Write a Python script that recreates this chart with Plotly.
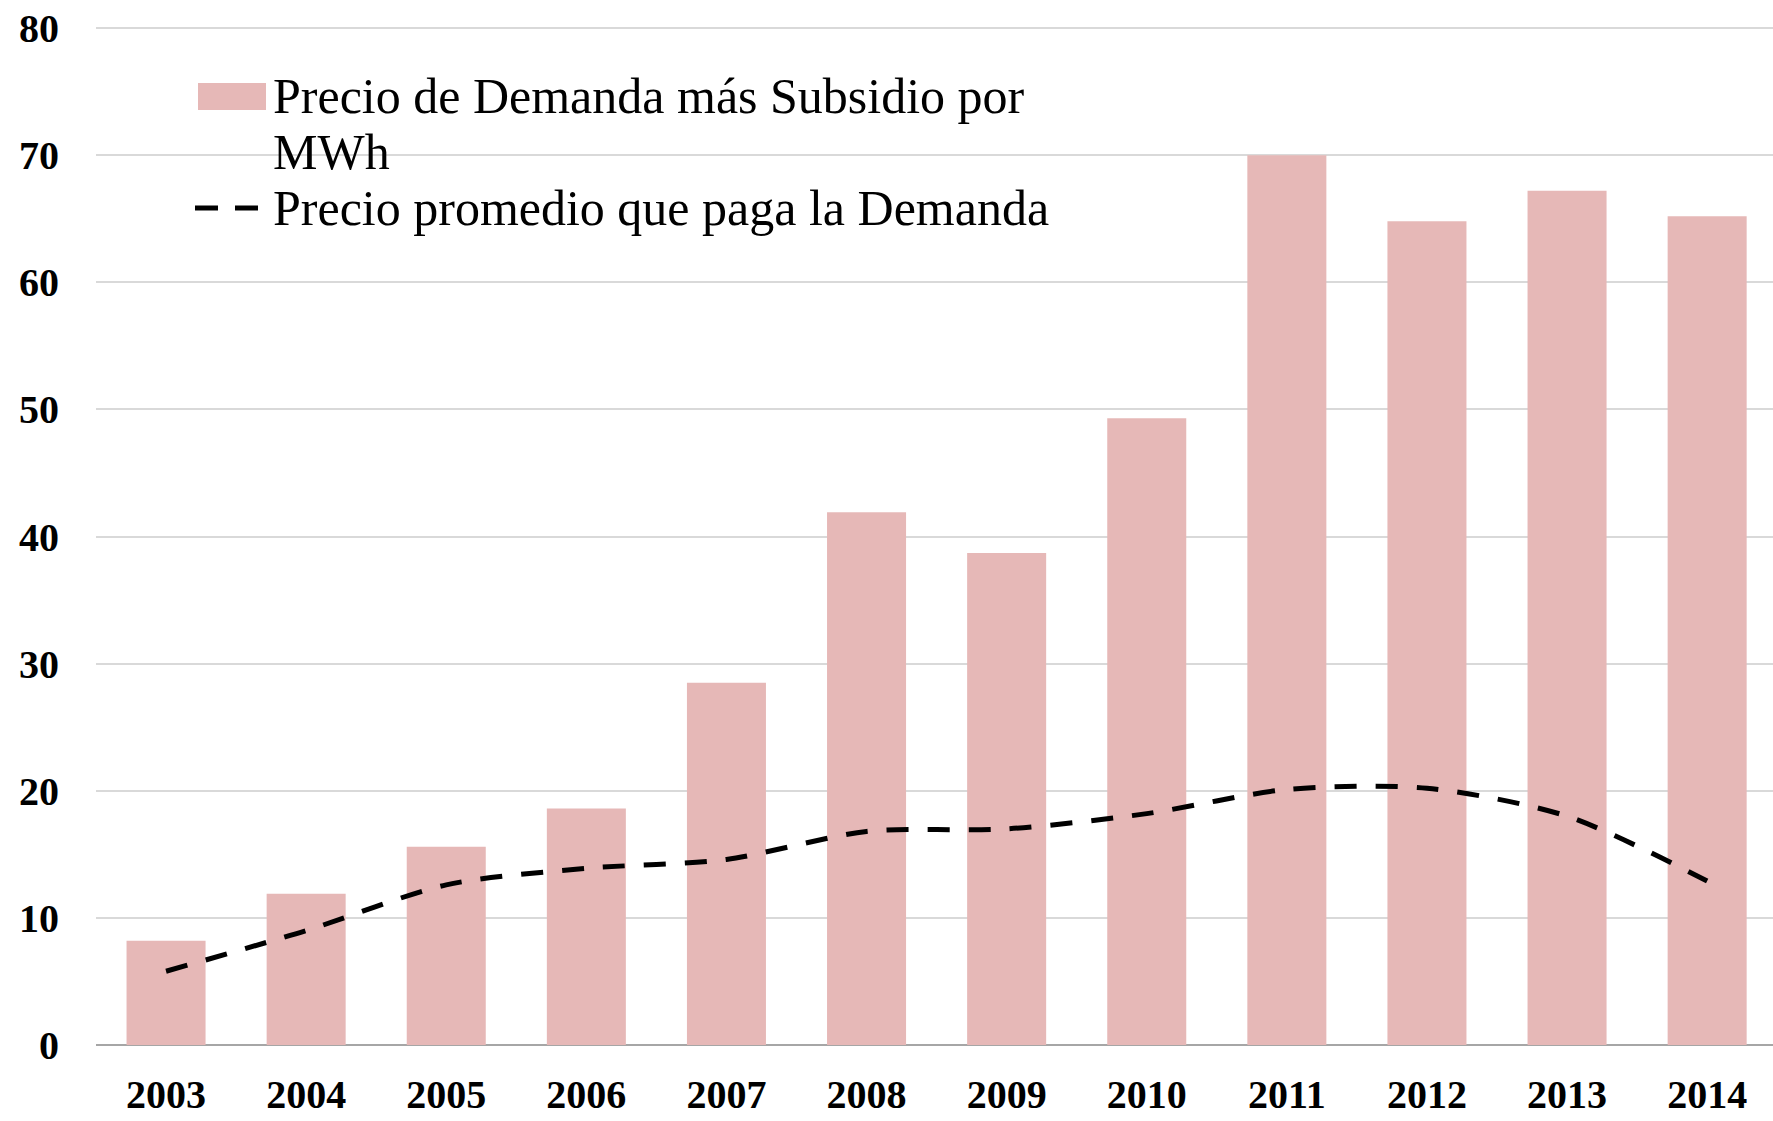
import plotly.graph_objects as go

years = ["2003", "2004", "2005", "2006", "2007", "2008", "2009", "2010", "2011", "2012", "2013", "2014"]
precio_subsidio = [8.2, 11.9, 15.6, 18.6, 28.5, 41.9, 38.7, 49.3, 70.0, 64.8, 67.2, 65.2]
precio_demanda = [5.8, 9.0, 12.6, 13.9, 14.6, 16.8, 17.0, 18.2, 20.1, 20.2, 18.0, 12.9]

name_bar = "Precio de Demanda más Subsidio por"
name_bar2 = "MWh"
name_line = "Precio promedio que paga la Demanda"
y_ticks = [0, 10, 20, 30, 40, 50, 60, 70, 80]

BAR_COLOR = "#E6B8B7"
FONT = "Liberation Serif"

W, H = 1773, 1121
L, T = 96, 27
B = H - 1045
PW = W - L
PH = H - T - B

def px(x_page):
    return (x_page - L) / PW

def py(y_page):
    return (H - B - y_page) / PH

fig = go.Figure()
fig.add_trace(go.Bar(x=years, y=precio_subsidio, marker=dict(color=BAR_COLOR, line=dict(width=0)),
                     name=name_bar + " " + name_bar2, showlegend=False))
fig.add_trace(go.Scatter(x=years, y=precio_demanda, mode="lines",
                         line=dict(color="black", width=5, dash="22px,19px", shape="spline", smoothing=0.8),
                         name=name_line, showlegend=False))

# custom legend (paper coordinates)
fig.add_shape(type="rect", xref="paper", yref="paper", x0=px(198), x1=px(266), y0=py(110), y1=py(83),
              fillcolor=BAR_COLOR, line=dict(width=0))
fig.add_shape(type="line", xref="paper", yref="paper", x0=px(195), x1=px(260), y0=py(208), y1=py(208),
              line=dict(color="black", width=5, dash="23px,17px"))
for txt, yy in [(name_bar, 96), (name_bar2, 152), (name_line, 208)]:
    fig.add_annotation(text=txt, xref="paper", yref="paper", x=px(271), y=py(yy), xanchor="left", yanchor="middle",
                       showarrow=False, font=dict(family=FONT, size=50, color="black"))

fig.update_layout(
    width=W, height=H,
    margin=dict(l=L, r=0, t=T, b=B, autoexpand=False),
    paper_bgcolor="white", plot_bgcolor="white",
    bargap=0.436,
    showlegend=False,
)
fig.update_xaxes(type="category", range=[-0.5, 11.47], showgrid=False, showline=False, zeroline=False,
                 tickfont=dict(family=FONT, size=40, color="black", weight="bold"),
                 ticks="", ticklabelstandoff=22, automargin=False, ticklabeloverflow="allow")
fig.update_yaxes(range=[0, 80.08], tickvals=y_ticks, showgrid=True, gridcolor="#D9D9D9", gridwidth=2,
                 zeroline=True, zerolinecolor="#A6A6A6", zerolinewidth=2, showline=False,
                 tickfont=dict(family=FONT, size=40, color="black", weight="bold"),
                 ticks="", ticklabelstandoff=36, automargin=False, ticklabeloverflow="allow")

fig.write_html("out.html", config={"displayModeBar": False},
               post_script="document.body.style.margin='0px';document.body.style.overflow='hidden';")
